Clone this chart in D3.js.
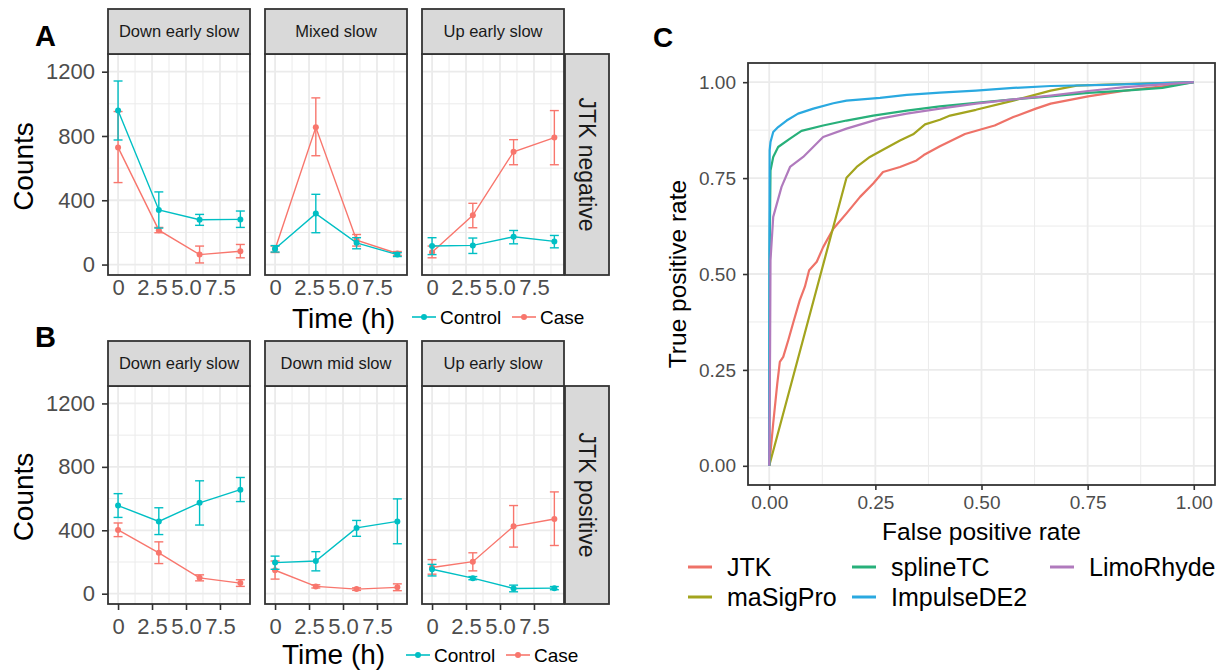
<!DOCTYPE html>
<html lang="en">
<head>
<meta charset="UTF-8">
<title>Count profiles and ROC curves</title>
<script src="https://d3js.org/d3.v7.min.js"></script>
<style>
  body { margin: 0; background: #fff; }
  svg text { font-family: "Liberation Sans", Arial, Helvetica, sans-serif; }
</style>
</head>
<body>
<svg width="1226" height="672"></svg>
<script>
// ---- data: panels A and B (mean counts with error bars) ----
const times = [0, 3, 6, 9];
const timeTicks = [0, 2.5, 5, 7.5];
const timeMinor = [1.25, 3.75, 6.25, 8.75];
const countTicks = [0, 400, 800, 1200];
const countMinor = [200, 600, 1000];

const facetsA = ["Down early slow", "Mixed slow", "Up early slow"];
const ctrlMeanA = [[958, 340, 279, 281], [98, 317, 135, 62], [115, 119, 173, 144]];
const ctrlLowA  = [[775, 227, 244, 231], [78, 198, 98, 50], [62, 69, 129, 104]];
const ctrlHighA = [[1142, 452, 312, 333], [118, 437, 167, 74], [167, 165, 212, 181]];
const caseMeanA = [[729, 214, 62, 83], [95, 854, 152, 69], [77, 306, 702, 790]];
const caseLowA  = [[510, 198, 10, 42], [75, 677, 115, 57], [42, 229, 621, 621]];
const caseHighA = [[952, 231, 115, 125], [115, 1037, 187, 81], [115, 381, 777, 958]];

const facetsB = ["Down early slow", "Down mid slow", "Up early slow"];
const ctrlMeanB = [[556, 456, 573, 656], [196, 206, 415, 456], [154, 98, 33, 35]];
const ctrlLowB  = [[481, 373, 433, 581], [154, 144, 362, 315], [112, 88, 12, 25]];
const ctrlHighB = [[631, 542, 712, 733], [237, 265, 462, 598], [185, 108, 54, 45]];
const caseMeanB = [[402, 258, 100, 67], [148, 46, 29, 40], [165, 202, 425, 471]];
const caseLowB  = [[360, 190, 81, 46], [92, 36, 21, 19], [123, 144, 294, 304]];
const caseHighB = [[446, 327, 119, 88], [206, 56, 37, 62], [215, 258, 556, 642]];

// ---- data: panel C (ROC curves) ----
const methods = ["JTK", "maSigPro", "splineTC", "ImpulseDE2", "LimoRhyde"];
const rocTicks = [0, 0.25, 0.5, 0.75, 1];
const rocMinor = [0.125, 0.375, 0.625, 0.875];
const fprJTK = [0, 0.0094, 0.019, 0.025, 0.033, 0.045, 0.057, 0.072, 0.084, 0.094, 0.112, 0.127, 0.151, 0.182, 0.214, 0.245, 0.268, 0.308, 0.347, 0.364, 0.402, 0.461, 0.531, 0.575, 0.628, 0.663, 0.751, 0.838, 0.926, 1];
const tprJTK = [0, 0.111, 0.215, 0.271, 0.284, 0.328, 0.375, 0.432, 0.467, 0.51, 0.532, 0.57, 0.618, 0.658, 0.701, 0.736, 0.766, 0.779, 0.796, 0.81, 0.833, 0.865, 0.887, 0.909, 0.931, 0.944, 0.963, 0.978, 0.989, 1];
const fprMaSig = [0, 0.182, 0.206, 0.237, 0.268, 0.308, 0.339, 0.367, 0.402, 0.426, 0.487, 0.575, 0.663, 0.724, 0.795, 1];
const tprMaSig = [0, 0.751, 0.779, 0.805, 0.824, 0.848, 0.864, 0.89, 0.902, 0.913, 0.928, 0.952, 0.978, 0.991, 0.994, 1];
const fprSpline = [0, 0.001, 0.003, 0.0094, 0.021, 0.049, 0.076, 0.127, 0.182, 0.245, 0.324, 0.402, 0.487, 0.575, 0.663, 0.751, 0.838, 0.926, 1];
const tprSpline = [0, 0.55, 0.77, 0.805, 0.831, 0.853, 0.873, 0.887, 0.9, 0.913, 0.926, 0.937, 0.946, 0.955, 0.963, 0.972, 0.978, 0.985, 1];
const fprImpulse = [0, 0.0005, 0.001, 0.003, 0.0094, 0.021, 0.041, 0.068, 0.104, 0.151, 0.182, 0.261, 0.324, 0.402, 0.487, 0.575, 0.663, 0.795, 1];
const tprImpulse = [0, 0.6, 0.822, 0.844, 0.870, 0.883, 0.90, 0.918, 0.931, 0.945, 0.952, 0.959, 0.967, 0.973, 0.978, 0.985, 0.99, 0.993, 1];
const fprLimo = [0, 0.002, 0.003, 0.0094, 0.029, 0.049, 0.08, 0.127, 0.182, 0.261, 0.324, 0.402, 0.487, 0.575, 0.663, 0.751, 0.838, 1];
const tprLimo = [0, 0.3, 0.536, 0.649, 0.727, 0.779, 0.805, 0.857, 0.879, 0.905, 0.918, 0.931, 0.944, 0.955, 0.965, 0.977, 0.987, 1];

const svg = d3.select("svg");
const ctrlColor = "#00BFC4", caseColor = "#F8766D";
const methodColor = ["#EE7268", "#A3A41E", "#28B07A", "#2AA9E0", "#B07ABD"];
const gridCol = "#ebebeb", borderCol = "#333333", tickTextCol = "#4d4d4d";

// ---- panels A and B ----
const facetLefts = [108, 265, 422];
const panelW = 142;

const rows = [
  { letter: "A", letterY: 46, stripTop: 9, panelTop: 54, panelBottom: 275, facets: facetsA, side: "JTK negative",
    ctrl: [ctrlMeanA, ctrlLowA, ctrlHighA], cas: [caseMeanA, caseLowA, caseHighA],
    xTicks: false, titleX: 292, titleY: 328, legendX: 412, legendY: 317 },
  { letter: "B", letterY: 347, stripTop: 341, panelTop: 386, panelBottom: 604, facets: facetsB, side: "JTK positive",
    ctrl: [ctrlMeanB, ctrlLowB, ctrlHighB], cas: [caseMeanB, caseLowB, caseHighB],
    xTicks: true, titleX: 282, titleY: 664, legendX: 406, legendY: 655 }
];

function drawSeries(g, x, y, mean, lo, hi, color) {
  const pts = times.map((t, i) => ({ t, m: mean[i], lo: lo[i], hi: hi[i] }));
  g.append("path")
    .attr("d", d3.line().x(d => x(d.t)).y(d => y(d.m))(pts))
    .attr("fill", "none").attr("stroke", color).attr("stroke-width", 1.4);
  const eb = g.selectAll(null).data(pts).join("g").attr("stroke", color).attr("stroke-width", 1.4);
  eb.append("line").attr("x1", d => x(d.t)).attr("x2", d => x(d.t)).attr("y1", d => y(d.lo)).attr("y2", d => y(d.hi));
  eb.append("line").attr("x1", d => x(d.t - 0.33)).attr("x2", d => x(d.t + 0.33)).attr("y1", d => y(d.lo)).attr("y2", d => y(d.lo));
  eb.append("line").attr("x1", d => x(d.t - 0.33)).attr("x2", d => x(d.t + 0.33)).attr("y1", d => y(d.hi)).attr("y2", d => y(d.hi));
  g.selectAll(null).data(pts).join("circle")
    .attr("cx", d => x(d.t)).attr("cy", d => y(d.m)).attr("r", 3).attr("fill", color);
}

rows.forEach(row => {
  const g = svg.append("g");
  const y = d3.scaleLinear().domain([-65, 1310]).range([row.panelBottom, row.panelTop]);

  g.append("text").attr("x", 35).attr("y", row.letterY).text(row.letter)
    .attr("font-size", 29).attr("font-weight", "bold");

  row.facets.forEach((name, i) => {
    const left = facetLefts[i];
    const x = d3.scaleLinear().domain([-0.74, 9.71]).range([left, left + panelW]);
    const p = g.append("g");

    p.selectAll(null).data(timeMinor).join("line")
      .attr("x1", d => x(d)).attr("x2", d => x(d)).attr("y1", row.panelTop).attr("y2", row.panelBottom)
      .attr("stroke", gridCol).attr("stroke-width", 1);
    p.selectAll(null).data(countMinor).join("line")
      .attr("y1", d => y(d)).attr("y2", d => y(d)).attr("x1", left).attr("x2", left + panelW)
      .attr("stroke", gridCol).attr("stroke-width", 1);
    p.selectAll(null).data(timeTicks).join("line")
      .attr("x1", d => x(d)).attr("x2", d => x(d)).attr("y1", row.panelTop).attr("y2", row.panelBottom)
      .attr("stroke", gridCol).attr("stroke-width", 1.8);
    p.selectAll(null).data(countTicks).join("line")
      .attr("y1", d => y(d)).attr("y2", d => y(d)).attr("x1", left).attr("x2", left + panelW)
      .attr("stroke", gridCol).attr("stroke-width", 1.8);

    drawSeries(p, x, y, row.cas[0][i], row.cas[1][i], row.cas[2][i], caseColor);
    drawSeries(p, x, y, row.ctrl[0][i], row.ctrl[1][i], row.ctrl[2][i], ctrlColor);

    p.append("rect").attr("x", left).attr("y", row.panelTop).attr("width", panelW)
      .attr("height", row.panelBottom - row.panelTop)
      .attr("fill", "none").attr("stroke", borderCol).attr("stroke-width", 1.8);

    // strip on top
    p.append("rect").attr("x", left).attr("y", row.stripTop).attr("width", panelW)
      .attr("height", row.panelTop - row.stripTop)
      .attr("fill", "#d9d9d9").attr("stroke", borderCol).attr("stroke-width", 1.8);
    p.append("text").attr("x", left + panelW / 2).attr("y", (row.stripTop + row.panelTop) / 2)
      .attr("dy", "0.35em").attr("text-anchor", "middle").attr("font-size", 16.5)
      .attr("fill", "#1a1a1a").text(name);

    // x axis
    const xa = p.append("g").attr("transform", `translate(0,${row.panelBottom})`)
      .call(d3.axisBottom(x).tickValues(timeTicks).tickSize(row.xTicks ? 6 : 0)
        .tickPadding(row.xTicks ? 8.5 : 4.5).tickFormat(d => d === 0 ? "0" : d3.format(".1f")(d)));
    xa.select(".domain").remove();
    xa.selectAll("line").attr("stroke", borderCol).attr("stroke-width", 1.6);
    xa.selectAll("text").attr("font-size", 22).attr("fill", tickTextCol).attr("font-family", null);

    if (i === 0) {
      const ya = p.append("g").attr("transform", `translate(${left},0)`)
        .call(d3.axisLeft(y).tickValues(countTicks).tickSize(6).tickPadding(7).tickFormat(d3.format("d")));
      ya.select(".domain").remove();
      ya.selectAll("line").attr("stroke", borderCol).attr("stroke-width", 1.6);
      ya.selectAll("text").attr("font-size", 22).attr("fill", tickTextCol).attr("font-family", null);
    }
  });

  // side strip
  const sx = 565, sw = 44;
  g.append("rect").attr("x", sx).attr("y", row.panelTop).attr("width", sw)
    .attr("height", row.panelBottom - row.panelTop)
    .attr("fill", "#d9d9d9").attr("stroke", borderCol).attr("stroke-width", 1.8);
  g.append("text")
    .attr("transform", `translate(${sx + sw / 2},${(row.panelTop + row.panelBottom) / 2}) rotate(90)`)
    .attr("dy", "0.35em").attr("text-anchor", "middle").attr("font-size", 23)
    .attr("fill", "#1a1a1a").text(row.side);

  // axis titles
  g.append("text")
    .attr("transform", `translate(33,${(row.panelTop + row.panelBottom) / 2 + 2}) rotate(-90)`)
    .attr("text-anchor", "middle").attr("font-size", 28).text("Counts");
  g.append("text").attr("x", row.titleX).attr("y", row.titleY).attr("font-size", 28).text("Time (h)");

  // legend
  [["Control", ctrlColor, 0], ["Case", caseColor, 100]].forEach(([lab, col, off]) => {
    const lx = row.legendX + off;
    g.append("line").attr("x1", lx).attr("x2", lx + 24).attr("y1", row.legendY).attr("y2", row.legendY)
      .attr("stroke", col).attr("stroke-width", 1.6);
    g.append("circle").attr("cx", lx + 12).attr("cy", row.legendY).attr("r", 3).attr("fill", col);
    g.append("text").attr("x", lx + 28).attr("y", row.legendY).attr("dy", "0.35em")
      .attr("font-size", 19).text(lab);
  });
});

// ---- panel C ----
const cg = svg.append("g");
const rx = d3.scaleLinear().domain([-0.05, 1.05]).range([748, 1215]);
const ry = d3.scaleLinear().domain([-0.05, 1.05]).range([485, 63]);

cg.append("text").attr("x", 653).attr("y", 47).attr("font-size", 28).attr("font-weight", "bold").text("C");

cg.selectAll(null).data(rocMinor).join("line")
  .attr("x1", d => rx(d)).attr("x2", d => rx(d)).attr("y1", 63).attr("y2", 485)
  .attr("stroke", gridCol).attr("stroke-width", 1);
cg.selectAll(null).data(rocMinor).join("line")
  .attr("y1", d => ry(d)).attr("y2", d => ry(d)).attr("x1", 748).attr("x2", 1215)
  .attr("stroke", gridCol).attr("stroke-width", 1);
cg.selectAll(null).data(rocTicks).join("line")
  .attr("x1", d => rx(d)).attr("x2", d => rx(d)).attr("y1", 63).attr("y2", 485)
  .attr("stroke", gridCol).attr("stroke-width", 1.8);
cg.selectAll(null).data(rocTicks).join("line")
  .attr("y1", d => ry(d)).attr("y2", d => ry(d)).attr("x1", 748).attr("x2", 1215)
  .attr("stroke", gridCol).attr("stroke-width", 1.8);

const curves = [
  [fprJTK, tprJTK], [fprMaSig, tprMaSig], [fprSpline, tprSpline], [fprImpulse, tprImpulse], [fprLimo, tprLimo]
];
const rocLine = d3.line().x(d => rx(d[0])).y(d => ry(d[1]));
curves.forEach(([f, t], k) => {
  cg.append("path").attr("d", rocLine(f.map((v, i) => [v, t[i]])))
    .attr("fill", "none").attr("stroke", methodColor[k]).attr("stroke-width", 2.2)
    .attr("stroke-linejoin", "round");
});

cg.append("rect").attr("x", 748).attr("y", 63).attr("width", 1215 - 748).attr("height", 485 - 63)
  .attr("fill", "none").attr("stroke", borderCol).attr("stroke-width", 1.8);

const cxa = cg.append("g").attr("transform", "translate(0,485)")
  .call(d3.axisBottom(rx).tickValues(rocTicks).tickSize(5).tickPadding(6).tickFormat(d3.format(".2f")));
cxa.select(".domain").remove();
cxa.selectAll("line").attr("stroke", borderCol).attr("stroke-width", 1.6);
cxa.selectAll("text").attr("font-size", 19).attr("fill", tickTextCol).attr("font-family", null);

const cya = cg.append("g").attr("transform", "translate(748,0)")
  .call(d3.axisLeft(ry).tickValues(rocTicks).tickSize(5).tickPadding(7).tickFormat(d3.format(".2f")));
cya.select(".domain").remove();
cya.selectAll("line").attr("stroke", borderCol).attr("stroke-width", 1.6);
cya.selectAll("text").attr("font-size", 19).attr("fill", tickTextCol).attr("font-family", null);

cg.append("text").attr("x", rx(0.5)).attr("y", 540).attr("text-anchor", "middle")
  .attr("font-size", 24.5).text("False positive rate");
cg.append("text").attr("transform", `translate(686,${ry(0.5)}) rotate(-90)`)
  .attr("text-anchor", "middle").attr("font-size", 24.5).text("True positive rate");

// legend: filled column by column, two rows
const legCols = [688, 852, 1050];
const legRows = [567, 597];
methods.forEach((m, k) => {
  const lx = legCols[Math.floor(k / 2)], ly = legRows[k % 2];
  cg.append("line").attr("x1", lx).attr("x2", lx + 24).attr("y1", ly).attr("y2", ly)
    .attr("stroke", methodColor[k]).attr("stroke-width", 3);
  cg.append("text").attr("x", lx + 39).attr("y", ly).attr("dy", "0.35em")
    .attr("font-size", 25).text(m);
});
</script>
</body>
</html>
